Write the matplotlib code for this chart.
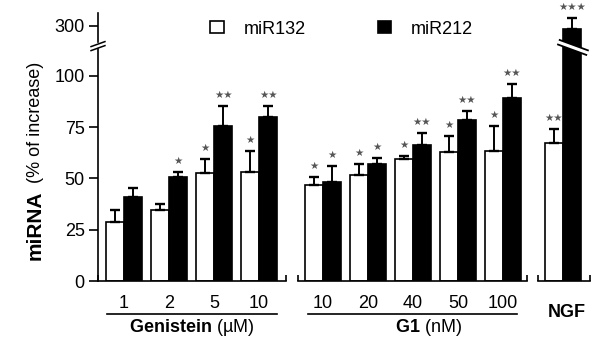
import numpy as np
import matplotlib
matplotlib.use("Agg")
import matplotlib.pyplot as plt

plt.rcParams['font.family'] = ['Liberation Sans', 'DejaVu Sans']
plt.rcParams['mathtext.fontset'] = 'custom'
plt.rcParams['mathtext.rm'] = 'Liberation Sans'
plt.rcParams['mathtext.bf'] = 'Liberation Sans:bold'

# data (% of increase)
gen_doses = ['1', '2', '5', '10']
g1_doses = ['10', '20', '40', '50', '100']

gen_132 = [28.6, 34.6, 52.5, 53.3]
gen_132_err = [6.0, 2.8, 6.8, 10.3]
gen_212 = [40.8, 50.6, 75.8, 79.8]
gen_212_err = [4.4, 2.4, 9.6, 5.6]
gen_132_sig = [0, 0, 1, 1]
gen_212_sig = [0, 1, 2, 2]

g1_132 = [46.8, 51.7, 59.3, 62.8, 63.6]
g1_132_err = [4.1, 5.2, 1.8, 7.9, 12.2]
g1_212 = [48.1, 56.9, 66.3, 78.5, 89.1]
g1_212_err = [8.1, 3.2, 6.0, 4.4, 7.0]
g1_132_sig = [1, 1, 1, 1, 1]
g1_212_sig = [1, 1, 2, 2, 2]

ngf_132 = [67.2]
ngf_132_err = [6.9]
ngf_212 = [298.3]
ngf_212_err = [5.4]
ngf_132_sig = [2]
ngf_212_sig = [3]

# broken y axis: squeeze 113..292 into a small gap
LO, HI, GAP = 113.0, 292.0, 3.6


def fwd(v):
    v = np.asarray(v, dtype=float)
    return np.where(v <= LO, v,
                    np.where(v >= HI, v - (HI - LO) + GAP,
                             LO + (v - LO) * GAP / (HI - LO)))


def inv(d):
    d = np.asarray(d, dtype=float)
    return np.where(d <= LO, d,
                    np.where(d >= LO + GAP, d + (HI - LO) - GAP,
                             LO + (d - LO) * (HI - LO) / GAP))


YTOP = 306.1
W = 0.4
STAR = '\u2605'

fig = plt.figure(figsize=(6, 3.57), dpi=100)


def px_axes(x0, x1):
    return fig.add_axes([x0 / 600, (357 - 281) / 357, (x1 - x0) / 600, (281 - 13) / 357])


def panel(ax, labels, m1, e1, m2, e2, s1, s2, left):
    pos = np.arange(len(labels))
    b1 = ax.bar(pos - W / 2, m1, W, color='white', edgecolor='black', lw=1.2)
    b2 = ax.bar(pos + W / 2, m2, W, color='black', edgecolor='black', lw=1.2)
    for p, m, e in ((pos - W / 2, m1, e1), (pos + W / 2, m2, e2)):
        ax.errorbar(p, m, yerr=[np.zeros(len(p)), e], fmt='none', ecolor='black',
                    elinewidth=1.4, capsize=3.6, capthick=1.7)
    for p, m, e, s in ((pos - W / 2, m1, e1, s1), (pos + W / 2, m2, e2, s2)):
        for xi, mi, ei, si in zip(p, m, e, s):
            if si:
                ax.annotate(STAR * si, (xi, mi + ei), xytext=(0, 8), textcoords='offset points',
                            ha='center', va='center', fontsize=7.5, color='#555555',
                            family=['DejaVu Sans'])
    ax.set_yscale('function', functions=(fwd, inv))
    ax.set_ylim(0, YTOP)
    width_units = (ax.get_position().width * 600) / 45.0
    ax.set_xlim(left, left + width_units)
    ax.set_xticks(pos)
    ax.set_xticklabels(labels, fontsize=13)
    ax.tick_params(axis='x', which='major', length=0, pad=10)
    ax.set_xticks(list(ax.get_xlim()), minor=True)
    ax.tick_params(axis='x', which='minor', direction='in', length=4.5, width=1.2)
    for sp in ('top', 'right', 'left'):
        ax.spines[sp].set_visible(False)
    ax.spines['bottom'].set_linewidth(1.2)
    return b1, b2


ax1 = px_axes(98, 286)
ax2 = px_axes(298, 527)
ax3 = px_axes(538, 590)

h1, h2 = panel(ax1, gen_doses, gen_132, gen_132_err, gen_212, gen_212_err,
               gen_132_sig, gen_212_sig, -0.58)
panel(ax2, g1_doses, g1_132, g1_132_err, g1_212, g1_212_err,
      g1_132_sig, g1_212_sig, -0.556)
panel(ax3, [''], ngf_132, ngf_132_err, ngf_212, ngf_212_err,
      ngf_132_sig, ngf_212_sig, -0.556)

# y axis on first panel only
ax1.set_yticks([0, 25, 50, 75, 100, 300])
ax1.set_yticklabels(['0', '25', '50', '75', '100', '300'])
ax1.tick_params(axis='y', direction='out', length=6.5, width=1.2, labelsize=13, pad=3)
for ax in (ax2, ax3):
    ax.set_yticks([])
ytr = ax1.get_yaxis_transform()
ax1.plot([0, 0], [0, LO], transform=ytr, color='black', lw=1.2, clip_on=False)
ax1.plot([0, 0], [HI, YTOP], transform=ytr, color='black', lw=1.2, clip_on=False)
for c in (0.884, 0.869):
    ax1.plot([-0.037, 0.037], [c - 0.0093, c + 0.0093], transform=ax1.transAxes,
             color='black', lw=1.1, clip_on=False)

# break across the NGF miR212 bar
ax3.plot([0.385, 0.96], [0.892, 0.851], transform=ax3.transAxes, color='black',
         lw=4.8, solid_capstyle='butt', clip_on=False, zorder=5)
ax3.plot([0.37, 0.975], [0.893, 0.850], transform=ax3.transAxes, color='white',
         lw=2.2, solid_capstyle='butt', clip_on=False, zorder=6)

# group labels
t1 = ax1.get_xaxis_transform()
ax1.plot([-0.38, 3.4], [-0.123, -0.123], transform=t1, color='black', lw=1.2, clip_on=False)
ax1.text(1.51, -0.172, r'$\bf{Genistein}$ (µM)', transform=t1, ha='center', va='center',
         fontsize=13)
t2 = ax2.get_xaxis_transform()
ax2.plot([-0.33, 4.31], [-0.123, -0.123], transform=t2, color='black', lw=1.2, clip_on=False)
ax2.text(2.35, -0.172, r'$\bf{G1}$ (nM)', transform=t2, ha='center', va='center', fontsize=13)
ax3.text(0.09, -0.116, 'NGF', transform=ax3.get_xaxis_transform(), ha='center', va='center',
         fontsize=13, fontweight='bold')

# y label
fig.text(35 / 600, (357 - 260) / 357, 'miRNA', rotation=90, fontsize=15, fontweight='bold',
         ha='center', va='bottom')
fig.text(35 / 600, (357 - 183) / 357, '(% of increase)', rotation=90, fontsize=13,
         ha='center', va='bottom')

fig.legend(handles=[h1, h2], labels=['miR132', 'miR212'], loc='center left',
           bbox_to_anchor=(210 / 600, (357 - 29) / 357), ncol=2, frameon=False, fontsize=13,
           handlelength=0.75, handleheight=0.6, handletextpad=1.1, columnspacing=4.0,
           borderpad=0, borderaxespad=0)

fig.savefig('out.png', dpi=100)
